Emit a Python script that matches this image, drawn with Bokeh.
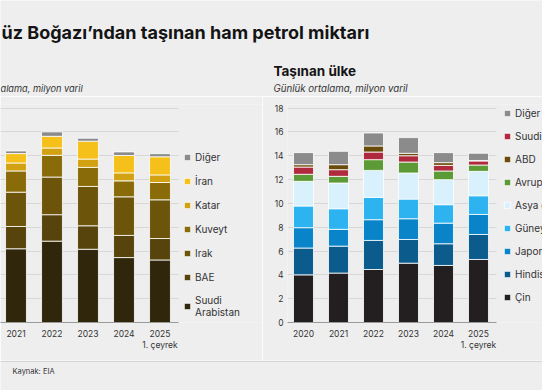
from bokeh.plotting import figure
from bokeh.models import (ColumnDataSource, Legend, LegendItem, Label, Span, Grid,
                          SingleIntervalTicker, FixedTicker, Range1d, LinearAxis)
from bokeh.layouts import column, row
from bokeh.embed import file_html
from bokeh.resources import INLINE

BG = "#eeeeef"
FONT = "Inter"
TXT = "#333333"
HEAD = "#141414"

# ---------------- data ----------------
title_text = "üz Boğazı’ndan taşınan ham petrol miktarı"
left_subtitle = "alama, milyon varil"
right_title = "Taşınan ülke"
right_subtitle = "Günlük ortalama, milyon varil"
source_text = "Kaynak: EIA"
quarter_note = "1. çeyrek"

# Left panel (source countries) - its 2020 bar lies outside the visible crop
src_years = ["2021", "2022", "2023", "2024", "2025"]
suudi_src = [6.19, 6.83, 6.15, 5.45, 5.25]
bae = [1.87, 2.22, 1.97, 1.86, 1.80]
irak = [2.88, 3.16, 3.30, 3.24, 3.25]
kuveyt = [1.78, 1.82, 1.60, 1.34, 1.45]
katar = [0.67, 0.62, 0.70, 0.67, 0.64]
iran = [0.79, 0.98, 1.50, 1.46, 1.52]
diger_src = [0.22, 0.37, 0.25, 0.30, 0.26]
src_names = ["Suudi\nArabistan", "BAE", "Irak", "Kuveyt", "Katar", "İran", "Diğer"]
src_colors = ["#30260b", "#57440c", "#6c540b", "#8a6b09", "#d2a213", "#f5c01a", "#8b8b8b"]

# Right panel (destination countries)
dst_years = ["2020", "2021", "2022", "2023", "2024", "2025"]
cin = [4.00, 4.15, 4.45, 4.98, 4.79, 5.29]
hindistan = [2.25, 2.26, 2.44, 1.99, 1.82, 2.10]
japonya = [1.71, 1.41, 1.74, 1.74, 1.73, 1.68]
guney_kore = [1.82, 1.73, 1.87, 1.65, 1.55, 1.57]
asya_diger = [2.07, 2.16, 2.27, 2.19, 2.10, 2.05]
avrupa = [0.59, 0.56, 0.90, 0.92, 0.73, 0.53]
suudi_dst = [0.61, 0.56, 0.64, 0.53, 0.47, 0.34]
abd = [0.20, 0.42, 0.51, 0.20, 0.23, 0.04]
diger_dst = [1.01, 1.12, 1.09, 1.32, 0.84, 0.61]
dst_names = ["Çin", "Hindistan", "Japonya", "Güney Kore", "Asya diğer",
             "Avrupa", "Suudi Arabistan", "ABD", "Diğer"]
dst_colors = ["#231f20", "#0b5b8c", "#0a84c8", "#2db4f0", "#d8f1fc",
              "#5b9a35", "#b02a3e", "#6b4b0a", "#8b8b8b"]
dst_legend_order = ["Diğer", "Suudi Arabistan", "ABD", "Avrupa", "Asya diğer",
                    "Güney Kore", "Japonya", "Hindistan", "Çin"]

YMAX = 18.3


def styled(p):
    p.background_fill_color = BG
    p.border_fill_color = BG
    p.outline_line_color = None
    return p


def hide_axes(p):
    for a in p.axis:
        a.visible = False
    p.grid.visible = False


def add_label(p, x, y, text, size, style="normal", color=TXT):
    p.add_layout(Label(x=x, y=y, x_units="screen", y_units="screen", text=text,
                       text_font=FONT, text_font_style=style, text_font_size=size,
                       text_color=color, text_baseline="middle"))


# ---------------- header (titles) ----------------
header = styled(figure(width=542, height=96, x_range=(0, 1), y_range=(0, 1),
                       output_backend="svg", toolbar_location=None, min_border=0))
hide_axes(header)
add_label(header, 1, 64, title_text, "18px", "bold", HEAD)
add_label(header, 0, 8, left_subtitle, "9.2px", "italic")
add_label(header, 273, 26, right_title, "13.5px", "bold", HEAD)
add_label(header, 273, 8, right_subtitle, "9.7px", "italic")


# ---------------- panels ----------------
def quiet_axis(ax, standoff):
    ax.axis_line_color = None
    ax.major_tick_line_color = None
    ax.minor_tick_line_color = None
    ax.major_tick_out = 0
    ax.major_tick_in = 0
    ax.minor_tick_out = 0
    ax.minor_tick_in = 0
    ax.major_label_text_font = FONT
    ax.major_label_text_font_size = "8.5px"
    ax.major_label_text_color = TXT
    ax.major_label_standoff = standoff


def style_panel(p, n, x0):
    idx = list(range(n))
    xa = p.xaxis[0]
    quiet_axis(xa, 7)
    xa.ticker = FixedTicker(ticks=idx)
    xa.bounds = (x0, n - 0.5)
    xa.axis_line_color = "#9a9a9a"
    p.xgrid.grid_line_color = None
    p.ygrid.grid_line_color = "#d7d7d9"
    p.ygrid.ticker = SingleIntervalTicker(interval=2)
    if "cross_bounds" in Grid.properties():
        p.ygrid.cross_bounds = (x0, n - 0.5)
    ya = p.yaxis[0]
    quiet_axis(ya, 4)
    ya.ticker = SingleIntervalTicker(interval=2)
    # second line under the last year label
    note = LinearAxis(ticker=FixedTicker(ticks=[n - 1]),
                      major_label_overrides={n - 1: quarter_note})
    quiet_axis(note, 0)
    p.add_layout(note, "below")


def make_legend(items, loc, spacing):
    lg = Legend(items=items, location=loc)
    lg.margin = 0
    lg.padding = 0
    lg.spacing = spacing
    lg.label_height = 14
    lg.glyph_height = 8
    lg.glyph_width = 8
    lg.label_standoff = 4
    lg.background_fill_alpha = 0
    lg.border_line_color = None
    lg.label_text_font = FONT
    lg.label_text_font_size = "10px"
    lg.label_text_color = TXT
    lg.label_text_line_height = 1.25
    return lg


ROW_H, TOP, BOTTOM = 264, 8, 38

# left panel: 36 px per year, frame spans the whole figure (legend inside it)
L_STEP, L_W = 36, 262
l_x0 = -15.5 / L_STEP
src_keys = ["suudi", "bae", "irak", "kuveyt", "katar", "iran", "diger"]
src = ColumnDataSource(dict(x=list(range(len(src_years))), suudi=suudi_src, bae=bae,
                            irak=irak, kuveyt=kuveyt, katar=katar, iran=iran,
                            diger=diger_src))
left = styled(figure(width=L_W, height=ROW_H,
                     x_range=Range1d(l_x0, l_x0 + L_W / L_STEP),
                     y_range=Range1d(0, YMAX), output_backend="svg",
                     toolbar_location=None, min_border_left=0, min_border_right=0,
                     min_border_top=TOP, min_border_bottom=BOTTOM))
style_panel(left, len(src_years), l_x0)
left.yaxis.visible = False
left.xaxis[0].major_label_overrides = {i: y for i, y in enumerate(src_years)}
rs = left.vbar_stack(src_keys, x="x", width=0.58, color=src_colors, source=src,
                     line_color="white", line_width=0.8)
items = [LegendItem(label=n, renderers=[r]) for n, r in zip(src_names, rs)][::-1]
left.add_layout(make_legend(items, (183, 4), 10), "center")

# right panel: 35 px per year
R_STEP, R_W, R_LB = 35, 280, 25
r_x0 = -16 / R_STEP
dst_keys = ["cin", "hindistan", "japonya", "guney", "asya", "avrupa", "suudi", "abd", "diger"]
dsrc = ColumnDataSource(dict(x=list(range(len(dst_years))), cin=cin, hindistan=hindistan,
                             japonya=japonya, guney=guney_kore, asya=asya_diger,
                             avrupa=avrupa, suudi=suudi_dst, abd=abd, diger=diger_dst))
right = styled(figure(width=R_W, height=ROW_H,
                      x_range=Range1d(r_x0, r_x0 + (R_W - R_LB) / R_STEP),
                      y_range=Range1d(0, YMAX), output_backend="svg",
                      toolbar_location=None, min_border_left=R_LB, min_border_right=0,
                      min_border_top=TOP, min_border_bottom=BOTTOM))
style_panel(right, len(dst_years), r_x0)
right.xaxis[0].major_label_overrides = {i: y for i, y in enumerate(dst_years)}
rd = right.vbar_stack(dst_keys, x="x", width=0.57, color=dst_colors, source=dsrc,
                      line_color="white", line_width=0.8)
rmap = dict(zip(dst_names, rd))
ritems = [LegendItem(label=n, renderers=[rmap[n]]) for n in dst_legend_order]
right.add_layout(make_legend(ritems, (216, 18), 9), "center")

# ---------------- footer ----------------
FOOT_H = 390 - 96 - ROW_H
footer = styled(figure(width=542, height=FOOT_H, x_range=(0, 542), y_range=(0, FOOT_H),
                       output_backend="svg", toolbar_location=None, min_border=0))
hide_axes(footer)
footer.add_layout(Span(location=FOOT_H - 1, dimension="width",
                       line_color="#d4d4d6", line_width=1))
add_label(footer, 12, 19, source_text, "7.5px")

layout = column(header, row(left, right, spacing=0), footer, spacing=0)

open("out.html", "w").write(file_html(layout, INLINE))
